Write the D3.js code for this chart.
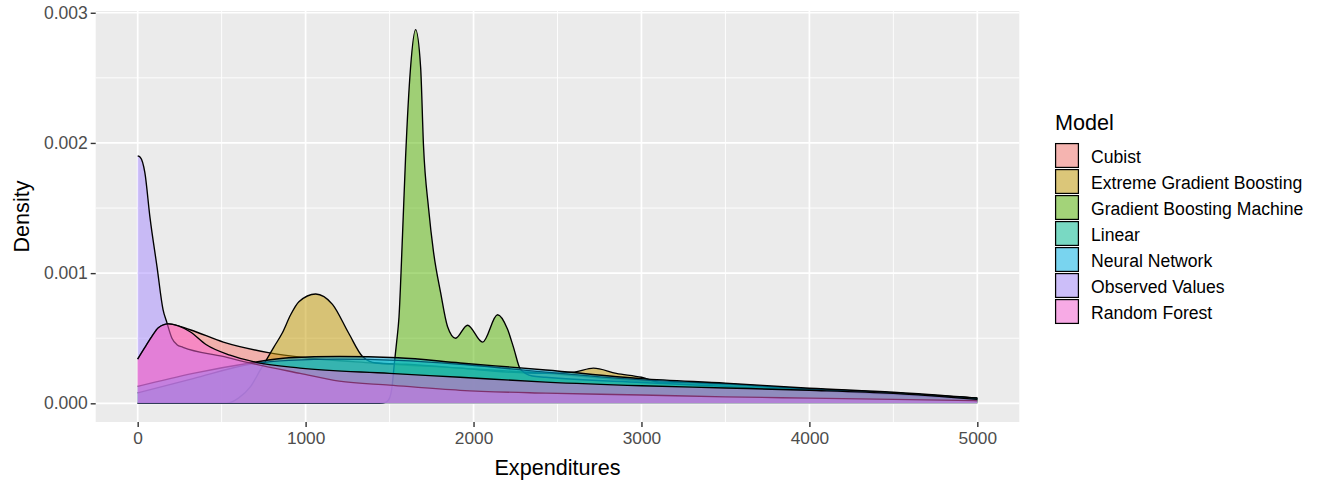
<!DOCTYPE html>
<html>
<head>
<meta charset="utf-8">
<script src="https://cdn.jsdelivr.net/npm/d3@7"></script>
<style>
  html, body { margin: 0; padding: 0; background: #ffffff; }
  svg { display: block; font-family: "Liberation Sans", Arial, sans-serif; }
</style>
</head>
<body>
<svg id="chart" width="1320" height="482"></svg>
<script>
// Model names in legend / drawing order
const models = [
  "Cubist",
  "Extreme Gradient Boosting",
  "Gradient Boosting Machine",
  "Linear",
  "Neural Network",
  "Observed Values",
  "Random Forest"
];

// ggplot hue palette for seven groups
const colors = ["#F8766D", "#C49A00", "#53B400", "#00C094", "#00B6EB", "#A58AFF", "#FB61D7"];

// Density estimates: [expenditure, density]
const cubist = [
  [0, 0.00034], [43, 0.00043], [83, 0.00051], [123, 0.00058], [182, 0.00061],
  [312, 0.000565], [510, 0.00047], [778, 0.00039], [1000, 0.00035], [1400, 0.00031],
  [1920, 0.00027], [2430, 0.00023], [3000, 0.00017], [3500, 0.00014], [4000, 0.00011],
  [4500, 0.00008], [5000, 0.00004]
];

const xgb = [
  [0, 0], [530, 0], [600, 0.00004], [673, 0.00013], [732, 0.00026], [765, 0.00033],
  [810, 0.00043], [861, 0.00054], [911, 0.00068], [960, 0.00078], [1060, 0.00084],
  [1160, 0.00076], [1256, 0.00054], [1339, 0.00036], [1420, 0.00031], [1600, 0.0003],
  [1920, 0.00027], [2200, 0.00024], [2430, 0.00023], [2600, 0.00024], [2714, 0.00027],
  [2850, 0.00023], [3000, 0.0002], [3125, 0.000155], [3270, 0.000163], [3400, 0.00015],
  [3530, 0.000147], [3700, 0.00013], [4000, 0.00011], [4500, 0.00008], [5000, 0.00004]
];

const gbm = [
  [0, 0], [1440, 0], [1480, 0.00001], [1500, 0.00004], [1515, 0.00013], [1528, 0.0003],
  [1542, 0.00047], [1556, 0.00066], [1577, 0.00129], [1595, 0.00188], [1625, 0.00258],
  [1655, 0.00287], [1685, 0.00258], [1702, 0.00198], [1732, 0.0015], [1762, 0.00116],
  [1804, 0.00085], [1845, 0.00059], [1893, 0.0005], [1964, 0.0006], [2054, 0.00047],
  [2143, 0.00068], [2202, 0.00057], [2238, 0.00043], [2280, 0.00026], [2350, 0.00021],
  [2430, 0.0002], [3000, 0.00016], [3500, 0.00013], [4000, 0.0001], [4500, 0.00007],
  [5000, 0.00003]
];

const linear = [
  [0, 0.00008], [330, 0.00019], [670, 0.0003], [900, 0.00033], [1200, 0.00034],
  [1550, 0.00033], [1920, 0.0003], [2430, 0.00024], [3000, 0.00018], [3500, 0.00015],
  [4000, 0.00011], [4500, 0.00008], [5000, 0.000035]
];

const neural = [
  [0, 0.00013], [330, 0.00023], [670, 0.00031], [900, 0.00035], [1200, 0.00036],
  [1550, 0.00035], [1920, 0.00031], [2430, 0.000256], [3000, 0.00019], [3500, 0.000155],
  [4000, 0.000116], [4500, 0.000085], [5000, 0.00004]
];

const observed = [
  [0, 0.0019], [15, 0.00189], [43, 0.00177], [73, 0.00143], [115, 0.00105],
  [151, 0.00072], [174, 0.00062], [204, 0.0005], [234, 0.00045], [270, 0.00043],
  [508, 0.00036], [669, 0.00031], [967, 0.00023], [1200, 0.00017], [1500, 0.00014],
  [1920, 0.0001], [2430, 0.000078], [3000, 0.000064], [3500, 0.00005], [4000, 0.00004],
  [4500, 0.00003], [5000, 0.00002]
];

const randomForest = [
  [0, 0.00034], [43, 0.00043], [83, 0.00051], [123, 0.00058], [182, 0.00061],
  [312, 0.00055], [409, 0.00045], [550, 0.00037], [688, 0.00032], [967, 0.00027],
  [1500, 0.00023], [1920, 0.0002], [2430, 0.000163], [3000, 0.000135], [3500, 0.000118],
  [4000, 0.0001], [4500, 0.000076], [5000, 0.00003]
];

const seriesValues = [cubist, xgb, gbm, linear, neural, observed, randomForest];

// Axis breaks and labels
const xBreaks = [0, 1000, 2000, 3000, 4000, 5000];
const xMinor = [500, 1500, 2500, 3500, 4500];
const yBreaks = [0, 0.001, 0.002, 0.003];
const yMinor = [0.0005, 0.0015, 0.0025];
const yLabels = ["0.000", "0.001", "0.002", "0.003"];

const svg = d3.select("#chart");

const panel = { left: 95.7, right: 1019.3, top: 11, bottom: 422 };

// ggplot-style 5% expansion on both scales
const xMin = 0, xMax = 5000;
const xPad = (xMax - xMin) * 0.05;
const x = d3.scaleLinear()
  .domain([xMin - xPad, xMax + xPad])
  .range([panel.left, panel.right]);

const yMax = d3.max(seriesValues, s => d3.max(s, d => d[1]));
const y = d3.scaleLinear()
  .domain([-0.05 * yMax, 1.05 * yMax])
  .range([panel.bottom, panel.top]);

// Panel background
svg.append("rect")
  .attr("x", panel.left).attr("y", panel.top)
  .attr("width", panel.right - panel.left)
  .attr("height", panel.bottom - panel.top)
  .attr("fill", "#EBEBEB");

const grid = svg.append("g");
// minor grid
grid.selectAll("line.xminor").data(xMinor).join("line")
  .attr("x1", d => x(d)).attr("x2", d => x(d))
  .attr("y1", panel.top).attr("y2", panel.bottom)
  .attr("stroke", "#FFFFFF").attr("stroke-width", 0.9);
grid.selectAll("line.yminor").data(yMinor).join("line")
  .attr("y1", d => y(d)).attr("y2", d => y(d))
  .attr("x1", panel.left).attr("x2", panel.right)
  .attr("stroke", "#FFFFFF").attr("stroke-width", 0.9);
// major grid
grid.selectAll("line.xmajor").data(xBreaks).join("line")
  .attr("x1", d => x(d)).attr("x2", d => x(d))
  .attr("y1", panel.top).attr("y2", panel.bottom)
  .attr("stroke", "#FFFFFF").attr("stroke-width", 1.7);
grid.selectAll("line.ymajor").data(yBreaks).join("line")
  .attr("y1", d => y(d)).attr("y2", d => y(d))
  .attr("x1", panel.left).attr("x2", panel.right)
  .attr("stroke", "#FFFFFF").attr("stroke-width", 1.7);

// Density layers: fill then upper outline, group by group
const area = d3.area()
  .x(d => x(d[0]))
  .y0(y(0))
  .y1(d => y(d[1]))
  .curve(d3.curveMonotoneX);

const upper = d3.line()
  .x(d => x(d[0]))
  .y(d => y(d[1]))
  .curve(d3.curveMonotoneX);

const layers = svg.append("g");
seriesValues.forEach((s, i) => {
  const g = layers.append("g");
  g.append("path")
    .attr("d", area(s))
    .attr("fill", colors[i])
    .attr("fill-opacity", 0.5);
  g.append("path")
    .attr("d", upper(s))
    .attr("fill", "none")
    .attr("stroke", "#000000")
    .attr("stroke-width", 1.35)
    .attr("stroke-linejoin", "round");
});

// Axes
const xAxis = d3.axisBottom(x)
  .tickValues(xBreaks)
  .tickFormat(d3.format("d"))
  .tickSize(5)
  .tickPadding(5);
const gx = svg.append("g")
  .attr("transform", `translate(0,${panel.bottom})`)
  .call(xAxis);
gx.select(".domain").remove();
gx.selectAll(".tick line").attr("stroke", "#333333").attr("stroke-width", 1.4);
gx.selectAll(".tick text")
  .attr("fill", "#4D4D4D")
  .attr("font-size", 17.3)
  .attr("font-family", "Liberation Sans, Arial, sans-serif");

const yAxis = d3.axisLeft(y)
  .tickValues(yBreaks)
  .tickFormat((d, i) => yLabels[i])
  .tickSize(5)
  .tickPadding(3);
const gy = svg.append("g")
  .attr("transform", `translate(${panel.left},0)`)
  .call(yAxis);
gy.select(".domain").remove();
gy.selectAll(".tick line").attr("stroke", "#333333").attr("stroke-width", 1.4);
gy.selectAll(".tick text")
  .attr("fill", "#4D4D4D")
  .attr("font-size", 17.5)
  .attr("font-family", "Liberation Sans, Arial, sans-serif");

// Axis titles
svg.append("text")
  .attr("x", (panel.left + panel.right) / 2)
  .attr("y", 475)
  .attr("text-anchor", "middle")
  .attr("font-size", 21.6)
  .attr("fill", "#000000")
  .text("Expenditures");

svg.append("text")
  .attr("transform", `translate(29,${(panel.top + panel.bottom) / 2}) rotate(-90)`)
  .attr("text-anchor", "middle")
  .attr("font-size", 21.6)
  .attr("fill", "#000000")
  .text("Density");

// Legend
const legend = svg.append("g").attr("transform", "translate(1055,0)");
legend.append("text")
  .attr("x", 0).attr("y", 130)
  .attr("font-size", 21.6)
  .attr("fill", "#000000")
  .text("Model");

const keyTop = 143;
const keyStep = 26;
models.forEach((m, i) => {
  const ky = keyTop + i * keyStep;
  legend.append("rect")
    .attr("x", -0.5).attr("y", ky - 0.5)
    .attr("width", 25).attr("height", 26)
    .attr("fill", "#F2F2F2");
  legend.append("rect")
    .attr("x", 0.6).attr("y", ky + 0.6)
    .attr("width", 22.8).attr("height", 23.8)
    .attr("fill", colors[i])
    .attr("fill-opacity", 0.5)
    .attr("stroke", "#000000")
    .attr("stroke-width", 1.2);
  legend.append("text")
    .attr("x", 36).attr("y", ky + 20.3)
    .attr("font-size", 17.6)
    .attr("fill", "#000000")
    .text(m);
});
</script>
</body>
</html>
